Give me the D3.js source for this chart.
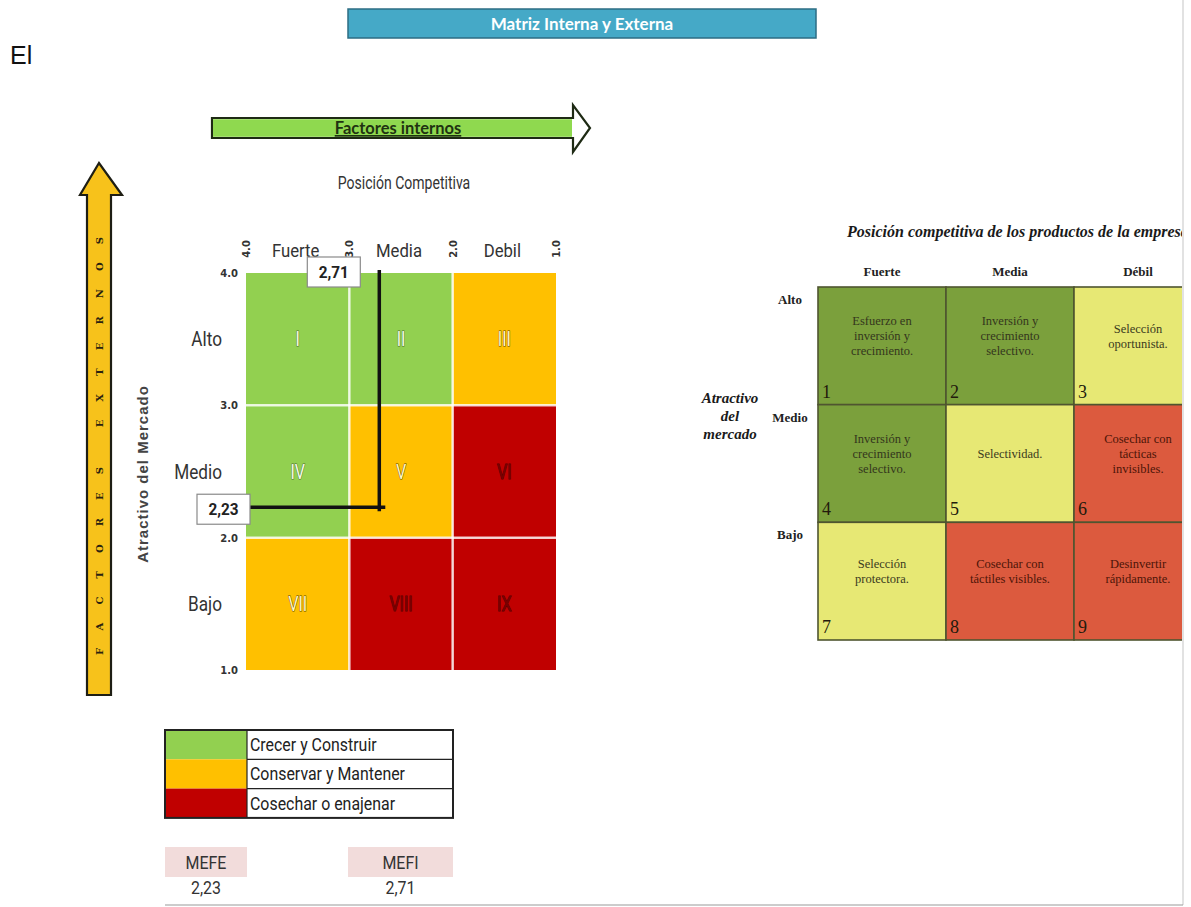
<!DOCTYPE html>
<html>
<head>
<meta charset="utf-8">
<script src="https://cdn.jsdelivr.net/npm/d3@7"></script>
<style>
  body { margin: 0; background: #fff; }
  svg { display: block; }
</style>
</head>
<body>
<svg id="chart" width="1191" height="907"></svg>
<script>
// ---------- Internal / External matrix data ----------
const tickValues = [4, 3, 2, 1];
const colLabels = ["Fuerte", "Media", "Debil"];
const rowLabels = ["Alto", "Medio", "Bajo"];
const zoneNumerals = ["I", "II", "III", "IV", "V", "VI", "VII", "VIII", "IX"];
const zoneStrategy = [0, 0, 1, 0, 1, 2, 1, 2, 2];
const strategyLabels = ["Crecer y Construir", "Conservar y Mantener", "Cosechar o enajenar"];
const strategyColors = ["#92D050", "#FFC000", "#C00000"];
const scoreNames = ["MEFE", "MEFI"];
const scoreValues = [2.23, 2.71];

// ---------- Competitive position grid data ----------
const gridCols = ["Fuerte", "Media", "Débil"];
const gridRows = ["Alto", "Medio", "Bajo"];
const gridTexts = [
  ["Esfuerzo en", "inversión y", "crecimiento."],
  ["Inversión y", "crecimiento", "selectivo."],
  ["Selección", "oportunista."],
  ["Inversión y", "crecimiento", "selectivo."],
  ["Selectividad."],
  ["Cosechar con", "tácticas", "invisibles."],
  ["Selección", "protectora."],
  ["Cosechar con", "táctiles visibles."],
  ["Desinvertir", "rápidamente."]
];
const gridTone = [0, 0, 1, 0, 1, 2, 1, 2, 2];
const gridColors = ["#7ba03c", "#e7e874", "#dc5a3e"];

const svg = d3.select("#chart");
const comma = d3.formatLocale({ decimal: ",", thousands: ".", grouping: [3], currency: ["", ""] }).format(".2f");
const sans = "Roboto, 'Liberation Sans', sans-serif";
const serif = "'Liberation Serif', 'Times New Roman', serif";

// condensed label: horizontally squeezed sans text
function narrowText(parent, x, y, size, text, anchor, opts = {}) {
  const t = parent.append("text")
    .attr("transform", `translate(${x},${y}) scale(${opts.sx || 0.86},1)`)
    .attr("text-anchor", anchor || "start")
    .attr("font-family", sans).attr("font-size", size)
    .attr("fill", opts.fill || "#333")
    .attr("font-weight", opts.weight || 400)
    .text(text);
  return t;
}

// page header
svg.append("text").attr("x", 10).attr("y", 64)
  .attr("font-family", "'Liberation Sans', Arial, sans-serif").attr("font-size", 25)
  .attr("fill", "#111").text("El");

svg.append("rect").attr("x", 348).attr("y", 9).attr("width", 468).attr("height", 29)
  .attr("fill", "#45a9c7").attr("stroke", "#2c6d84").attr("stroke-width", 1.5);
svg.append("text").attr("x", 582).attr("y", 30).attr("text-anchor", "middle")
  .attr("font-family", "Lato, sans-serif").attr("font-weight", 700).attr("font-size", 17)
  .attr("fill", "#fff").text("Matriz Interna y Externa");

// ---------- horizontal arrow: internal factors ----------
const hArrow = svg.append("g");
hArrow.append("path")
  .attr("d", "M212,118 L573,118 L573,105 L590,128 L573,152 L573,138 L212,138 Z")
  .attr("fill", "#fff").attr("stroke", "#1e2a14").attr("stroke-width", 2.2).attr("stroke-linejoin", "miter");
hArrow.append("rect").attr("x", 213).attr("y", 119.2).attr("width", 359).attr("height", 17.6)
  .attr("fill", "#8fd94f");
hArrow.append("text").attr("x", 398).attr("y", 134).attr("text-anchor", "middle")
  .attr("font-family", "Lato, sans-serif").attr("font-weight", 700).attr("font-size", 16.5)
  .attr("text-decoration", "underline").attr("fill", "#1f3311").text("Factores internos");

narrowText(svg, 404, 189, 18, "Posición Competitiva", "middle", { sx: 0.78 });

// ---------- vertical arrow: external factors ----------
const vArrow = svg.append("g");
vArrow.append("path")
  .attr("d", "M87,695 L87,195 L80,195 L99,163 L122,195 L111,195 L111,695 Z")
  .attr("fill", "#f7c21b").attr("stroke", "#1e1e14").attr("stroke-width", 2.2);
vArrow.append("text")
  .attr("transform", "translate(103,655) rotate(-90)")
  .attr("font-family", "'DejaVu Serif', serif").attr("font-weight", 700).attr("font-size", 10)
  .attr("fill", "#2a2210")
  .attr("textLength", 418).attr("lengthAdjust", "spacing")
  .text("FACTORES EXTERNOS");

svg.append("text")
  .attr("transform", "translate(148,474) rotate(-90)").attr("text-anchor", "middle")
  .attr("font-family", "'Liberation Sans', Arial, sans-serif").attr("font-weight", 700)
  .attr("font-size", 15).attr("letter-spacing", 1).attr("fill", "#444")
  .text("Atractivo del Mercado");

// ---------- IE matrix ----------
const x = d3.scaleLinear().domain([4, 1]).range([246, 556]);
const y = d3.scaleLinear().domain([1, 4]).range([670, 273]);

const cells = zoneNumerals.map((n, i) => {
  const c = i % 3, r = Math.floor(i / 3);
  return { n, s: zoneStrategy[i], x0: tickValues[c], x1: tickValues[c + 1], y0: tickValues[r], y1: tickValues[r + 1] };
});

const matrix = svg.append("g");
matrix.selectAll("rect.zone").data(cells).join("rect").attr("class", "zone")
  .attr("x", d => x(d.x0)).attr("y", d => y(d.y0))
  .attr("width", d => x(d.x1) - x(d.x0)).attr("height", d => y(d.y1) - y(d.y0))
  .attr("fill", d => strategyColors[d.s]);

// separators between zones
matrix.selectAll("line.vsep").data(tickValues.slice(1, 3)).join("line").attr("class", "vsep")
  .attr("x1", d => x(d)).attr("x2", d => x(d)).attr("y1", y(4)).attr("y2", y(1))
  .attr("stroke", "#fff").attr("stroke-opacity", 0.8).attr("stroke-width", 2.5);
matrix.selectAll("line.hsep").data(tickValues.slice(1, 3)).join("line").attr("class", "hsep")
  .attr("y1", d => y(d)).attr("y2", d => y(d)).attr("x1", x(4)).attr("x2", x(1))
  .attr("stroke", "#fff").attr("stroke-opacity", 0.8).attr("stroke-width", 2.5);

// zone numerals
const numFill = ["#f3fbe6", "#fff6c4", "#780000"];
const numStroke = ["#4d6e30", "#5a4600", "#5a0000"];
cells.forEach(d => {
  narrowText(matrix, (x(d.x0) + x(d.x1)) / 2, (y(d.y0) + y(d.y1)) / 2 + 7, 20, d.n, "middle",
    { sx: 0.8, fill: numFill[d.s] })
    .attr("stroke", numStroke[d.s]).attr("stroke-width", 1).attr("paint-order", "stroke");
});

// tick labels
const tickFont = "'DejaVu Sans', Verdana, sans-serif";
svg.selectAll("text.ytick").data(tickValues).join("text").attr("class", "ytick")
  .attr("x", 238).attr("y", d => y(d) + 4).attr("text-anchor", "end")
  .attr("font-family", tickFont).attr("font-weight", 700).attr("font-size", 10).attr("fill", "#333")
  .text(d => d3.format(".1f")(d));
svg.selectAll("text.xtick").data(tickValues).join("text").attr("class", "xtick")
  .attr("transform", d => `translate(${x(d) + 4},249) rotate(-90)`).attr("text-anchor", "middle")
  .attr("font-family", tickFont).attr("font-weight", 700).attr("font-size", 10).attr("fill", "#333")
  .text(d => d3.format(".1f")(d));

// column / row headings
colLabels.forEach((d, i) => {
  narrowText(svg, (x(tickValues[i]) + x(tickValues[i + 1])) / 2 - 2, 257, 19, d, "middle", { sx: 0.88 });
});
rowLabels.forEach((d, i) => {
  narrowText(svg, 222, (y(tickValues[i]) + y(tickValues[i + 1])) / 2 + 7, 20, d, "end", { sx: 0.86 });
});

// score crosshair
const [mefe, mefi] = scoreValues;
const cross = svg.append("g");
cross.append("line").attr("x1", x(mefi)).attr("x2", x(mefi)).attr("y1", y(4) - 3).attr("y2", y(mefe) + 4)
  .attr("stroke", "#111").attr("stroke-width", 3.5);
cross.append("line").attr("x1", x(4)).attr("x2", x(mefi) + 6).attr("y1", y(mefe)).attr("y2", y(mefe))
  .attr("stroke", "#111").attr("stroke-width", 3.5);

function valueBox(bx, by, text) {
  const g = svg.append("g");
  g.append("rect").attr("x", bx).attr("y", by).attr("width", 53).attr("height", 30)
    .attr("fill", "#fff").attr("stroke", "#8a8a8a").attr("stroke-width", 1.2);
  narrowText(g, bx + 26.5, by + 21, 17, text, "middle", { sx: 0.9, weight: 700, fill: "#222" });
}
valueBox(x(mefi) - 72, y(4) - 16, comma(mefi));
valueBox(x(4) - 49, y(mefe) - 13, comma(mefe));

// legend
const lg = svg.append("g");
const lgTop = 730, lgRow = 29.3, lgLeft = 165, lgSw = 82, lgW = 288;
lg.selectAll("rect.sw").data(strategyLabels).join("rect").attr("class", "sw")
  .attr("x", lgLeft).attr("y", (d, i) => lgTop + i * lgRow).attr("width", lgSw).attr("height", lgRow)
  .attr("fill", (d, i) => strategyColors[i]);
lg.selectAll("line.sep").data([1, 2]).join("line").attr("class", "sep")
  .attr("x1", lgLeft + lgSw).attr("x2", lgLeft + lgW)
  .attr("y1", d => lgTop + d * lgRow).attr("y2", d => lgTop + d * lgRow)
  .attr("stroke", "#222").attr("stroke-width", 1.2);
lg.append("line").attr("x1", lgLeft + lgSw).attr("x2", lgLeft + lgSw)
  .attr("y1", lgTop).attr("y2", lgTop + 3 * lgRow).attr("stroke", "#222").attr("stroke-width", 1.2);
lg.append("rect").attr("x", lgLeft).attr("y", lgTop).attr("width", lgW).attr("height", 3 * lgRow)
  .attr("fill", "none").attr("stroke", "#222").attr("stroke-width", 2);
strategyLabels.forEach((d, i) => {
  narrowText(lg, lgLeft + lgSw + 3, lgTop + i * lgRow + 21, 18.5, d, "start", { sx: 0.86, fill: "#222" });
});

// score summary
const boxes = [{ x: 165, w: 82 }, { x: 348, w: 105 }];
const sg = svg.append("g");
sg.selectAll("rect").data(scoreNames).join("rect")
  .attr("x", (d, i) => boxes[i].x).attr("y", 847).attr("width", (d, i) => boxes[i].w).attr("height", 30)
  .attr("fill", "#f2dcdb");
scoreNames.forEach((d, i) => {
  narrowText(sg, boxes[i].x + boxes[i].w / 2, 869, 19, d, "middle", { sx: 0.84 });
  narrowText(sg, boxes[i].x + boxes[i].w / 2, 894, 19, comma(scoreValues[i]), "middle", { sx: 0.84 });
});

// ---------- competitive position grid ----------
svg.append("defs").append("clipPath").attr("id", "panelClip")
  .append("rect").attr("x", 0).attr("y", 0).attr("width", 1182).attr("height", 907);
const panel = svg.append("g").attr("clip-path", "url(#panelClip)");

const gx = d3.scaleBand().domain(gridCols).range([818, 1202]);
const gy = d3.scaleBand().domain(gridRows).range([287, 640]);

panel.append("text").attr("x", 847).attr("y", 237)
  .attr("font-family", serif).attr("font-weight", 700).attr("font-style", "italic").attr("font-size", 16)
  .attr("fill", "#1a1a1a").text("Posición competitiva de los productos de la empresa");

panel.selectAll("text.gcol").data(gridCols).join("text").attr("class", "gcol")
  .attr("x", d => gx(d) + gx.bandwidth() / 2).attr("y", 276).attr("text-anchor", "middle")
  .attr("font-family", serif).attr("font-weight", 700).attr("font-size", 13).attr("fill", "#222")
  .text(d => d);
panel.selectAll("text.grow").data(gridRows).join("text").attr("class", "grow")
  .attr("x", 790).attr("y", d => gy(d) + 17).attr("text-anchor", "middle")
  .attr("font-family", serif).attr("font-weight", 700).attr("font-size", 13).attr("fill", "#222")
  .text(d => d);

panel.selectAll("text.gaxis").data(["Atractivo", "del", "mercado"]).join("text").attr("class", "gaxis")
  .attr("x", 730).attr("y", (d, i) => 403 + i * 18).attr("text-anchor", "middle")
  .attr("font-family", serif).attr("font-weight", 700).attr("font-style", "italic").attr("font-size", 15)
  .attr("fill", "#1a1a1a").text(d => d);

const gcells = gridTexts.map((lines, i) => ({
  lines, tone: gridTone[i], num: i + 1,
  col: gridCols[i % 3], row: gridRows[Math.floor(i / 3)]
}));
const gc = panel.selectAll("g.gcell").data(gcells).join("g").attr("class", "gcell")
  .attr("transform", d => `translate(${gx(d.col)},${gy(d.row)})`);
gc.append("rect").attr("width", gx.bandwidth()).attr("height", gy.bandwidth())
  .attr("fill", d => gridColors[d.tone]).attr("stroke", "#4f5530").attr("stroke-width", 1.6);
const gTextFill = ["#34361c", "#3a3a1e", "#4d1508"];
gc.each(function (d) {
  const g = d3.select(this);
  const h = gy.bandwidth();
  const start = h * 0.42 - (d.lines.length - 1) * 7.5 + 4;
  g.selectAll("text.line").data(d.lines).join("text").attr("class", "line")
    .attr("x", gx.bandwidth() / 2).attr("y", (t, i) => start + i * 15).attr("text-anchor", "middle")
    .attr("font-family", serif).attr("font-size", 12.5).attr("fill", gTextFill[d.tone]).text(t => t);
  g.append("text").attr("x", 4).attr("y", h - 7)
    .attr("font-family", serif).attr("font-size", 18).attr("fill", "#231a0c").text(d.num);
});

// page frame lines
svg.append("line").attr("x1", 1183).attr("x2", 1183).attr("y1", 0).attr("y2", 905)
  .attr("stroke", "#cfcfcf").attr("stroke-width", 1.2);
svg.append("line").attr("x1", 165).attr("x2", 1183).attr("y1", 905).attr("y2", 905)
  .attr("stroke", "#9a9a9a").attr("stroke-width", 1.2);
</script>
</body>
</html>
